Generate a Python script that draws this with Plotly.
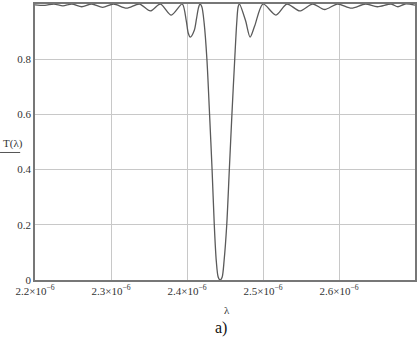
import plotly.graph_objects as go

# wavelength samples in micrometres and transmission
lam_um = [2.2000, 2.2131, 2.2249, 2.2367, 2.2484, 2.2615, 2.2746, 2.2890, 2.3034,
          2.3204, 2.3374, 2.3518, 2.3649, 2.3793, 2.3937, 2.3990, 2.4016, 2.4043,
          2.4096, 2.4124, 2.4150, 2.4170, 2.4195, 2.4226, 2.4262, 2.4297, 2.4330,
          2.4359, 2.4385, 2.4411, 2.4436, 2.4462, 2.4488, 2.4523, 2.4557, 2.4591,
          2.4628, 2.4654, 2.4673, 2.4690, 2.4770, 2.4830, 2.4890, 2.5000, 2.5170,
          2.5314, 2.5484, 2.5654, 2.5811, 2.5981, 2.6164, 2.6347, 2.6504, 2.6687,
          2.6775, 2.6870, 2.7000]
T = [0.997, 0.995, 1.000, 0.993, 1.000, 0.990, 1.000, 0.988, 1.000,
     0.985, 1.000, 0.975, 1.000, 0.960, 1.000, 0.940, 0.895, 0.880,
     0.905, 0.945, 0.985, 1.000, 0.990, 0.930, 0.800, 0.600, 0.400,
     0.200, 0.070, 0.010, 0.000, 0.010, 0.070, 0.200, 0.400, 0.600,
     0.800, 0.930, 0.990, 1.000, 0.940, 0.880, 0.920, 1.000, 0.960,
     1.000, 0.975, 1.000, 0.980, 1.000, 0.985, 1.000, 0.990, 1.000,
     0.990, 1.000, 0.996]

lam = [v * 1e-6 for v in lam_um]

x_ticks = [2.2e-6, 2.3e-6, 2.4e-6, 2.5e-6, 2.6e-6]
x_labels = ["2.2×10<sup>−6</sup>", "2.3×10<sup>−6</sup>", "2.4×10<sup>−6</sup>",
            "2.5×10<sup>−6</sup>", "2.6×10<sup>−6</sup>"]
y_ticks = [0, 0.2, 0.4, 0.6, 0.8]
y_labels = ["0", "0.2", "0.4", "0.6", "0.8"]

font = "Liberation Serif, Times New Roman, serif"

fig = go.Figure()
fig.add_trace(go.Scatter(x=lam, y=T, mode="lines",
                         line=dict(color="#5a5a5a", width=1.3, shape="spline", smoothing=0.8),
                         showlegend=False))

fig.update_layout(
    width=419, height=338,
    margin=dict(l=35, r=2, t=3, b=58),
    paper_bgcolor="white", plot_bgcolor="white",
    font=dict(family=font, size=11, color="#333333"),
    xaxis=dict(range=[2.2e-6, 2.7e-6], tickvals=x_ticks, ticktext=x_labels,
               showgrid=True, gridcolor="#c8c8c8", gridwidth=1,
               showline=True, linecolor="#777777", linewidth=1.5, mirror=True,
               ticks="", zeroline=False, tickfont=dict(size=11, family=font)),
    yaxis=dict(range=[0, 1.0], tickvals=y_ticks, ticktext=y_labels,
               showgrid=True, gridcolor="#c8c8c8", gridwidth=1,
               showline=True, linecolor="#777777", linewidth=1.5, mirror=True,
               ticks="", zeroline=False, tickfont=dict(size=11, family=font)),
)

fig.add_annotation(text="λ", xref="paper", yref="paper", x=0.505, y=-0.11,
                   yanchor="middle",
                   showarrow=False, font=dict(size=11, family=font, color="#333333"))
fig.add_annotation(text="a)", xref="paper", yref="paper", x=0.49, y=-0.173,
                   xanchor="center", yanchor="middle",
                   showarrow=False, font=dict(size=16, family=font, color="#111111"))
fig.add_annotation(text="T(λ)", xref="paper", yref="paper", x=-0.058, y=0.495,
                   xanchor="center", yanchor="middle",
                   showarrow=False, font=dict(size=11, family=font, color="#333333"))
fig.add_shape(type="line", xref="paper", yref="paper", x0=-0.092, x1=-0.039,
              y0=0.462, y1=0.462, line=dict(color="#555555", width=1))

fig.write_html("out.html", config={"displayModeBar": False},
               post_script="document.body.style.margin='0';")
